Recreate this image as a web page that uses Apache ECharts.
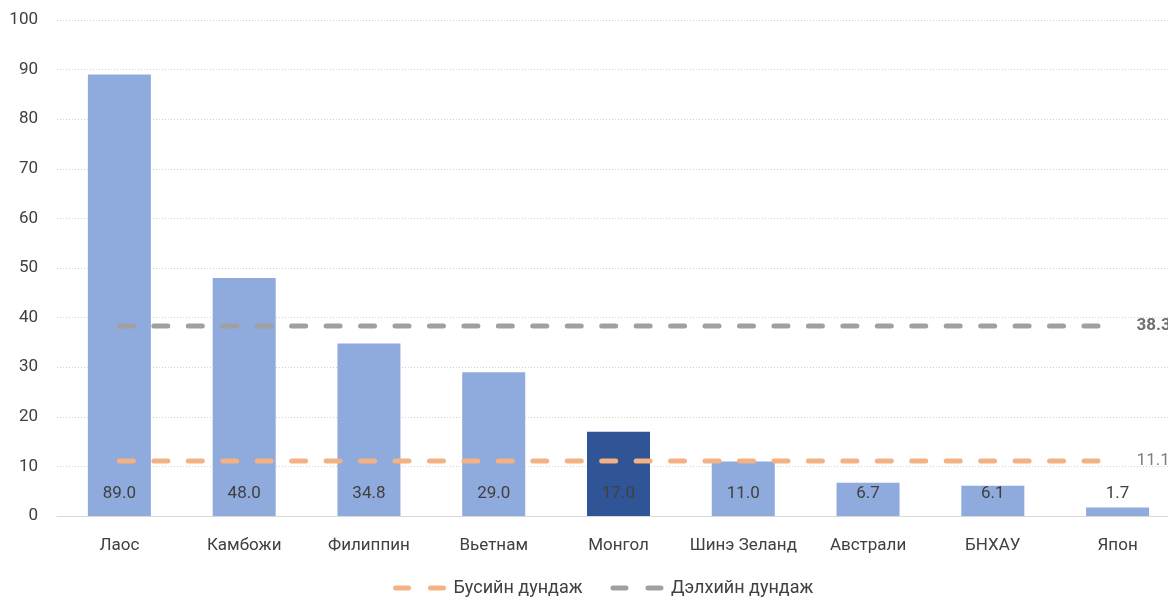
<!DOCTYPE html>
<html><head><meta charset="utf-8">
<script src="https://cdn.jsdelivr.net/npm/echarts@6/dist/echarts.min.js"></script>
<style>html,body{margin:0;padding:0;background:#fff;overflow:hidden;width:1168px;height:597px}#c{width:1180px;height:597px}</style>
</head><body><div id="c"></div>
<script>
var categories = ['Лаос','Камбожи','Филиппин','Вьетнам','Монгол','Шинэ Зеланд','Австрали','БНХАУ','Япон'];
var values = [89.0, 48.0, 34.8, 29.0, 17.0, 11.0, 6.7, 6.1, 1.7];
var highlight = 'Монгол';
var regionAvgName = 'Бусийн дундаж';
var regionAvg = 11.1;
var worldAvgName = 'Дэлхийн дундаж';
var worldAvg = 38.3;
var yTicks = [0,10,20,30,40,50,60,70,80,90,100];

var FONT = 'Roboto, "Noto Sans", sans-serif';
var chart = echarts.init(document.getElementById('c'), null, {renderer:'canvas'});
var barData = values.map(function(v,i){
  return {value:v, itemStyle:{color: categories[i]===highlight ? '#2F5597' : '#8FAADC'}};
});
function flat(v){ return categories.map(function(){return v;}); }
chart.setOption({
  animation:false,
  textStyle:{fontFamily:FONT},
  grid:{left:57, right:0, top:20, bottom:81, containLabel:false},
  legend:{
    top:574, left:388, itemWidth:48, itemHeight:10, itemGap:28,
    itemStyle:{color:'rgba(0,0,0,0)', borderWidth:0},
    lineStyle:{width:5, type:[13,22], cap:'round'},
    textStyle:{fontSize:18, color:'#404040', fontFamily:FONT, padding:[0,0,0,5]},
    data:[regionAvgName, worldAvgName]
  },
  xAxis:{
    type:'category', data:categories,
    axisLine:{lineStyle:{color:'#D9D9D9', width:1}},
    axisTick:{show:false},
    axisLabel:{fontSize:17, color:'#404040', margin:21, interval:0, fontFamily:FONT}
  },
  yAxis:{
    type:'value', min:yTicks[0], max:yTicks[yTicks.length-1], interval:10,
    axisLine:{show:false}, axisTick:{show:false},
    axisLabel:{fontSize:17, color:'#404040', margin:19, fontFamily:FONT},
    splitLine:{lineStyle:{color:'#D0D0D0', type:[1,2], width:1}}
  },
  series:[
    {type:'bar', data:barData, barWidth:63, z:1,
     label:{show:true, position:'insideBottom', distance:14, fontSize:17, color:'#404040',
            fontFamily:FONT, formatter:function(p){return p.value.toFixed(1);}}},
    {type:'line', name:regionAvgName, data:flat(regionAvg), symbol:'none', z:3,
     lineStyle:{color:'#F4B183', width:5, type:[14,20.45], cap:'round'},
     itemStyle:{color:'#F4B183'},
     endLabel:{show:true, distance:19, fontSize:17, color:'#7F7F7F', fontFamily:FONT,
               formatter:function(p){return p.value.toFixed(1);}}},
    {type:'line', name:worldAvgName, data:flat(worldAvg), symbol:'none', z:3,
     lineStyle:{color:'#A0A0A0', width:5, type:[14,20.45], cap:'round'},
     itemStyle:{color:'#A0A0A0'},
     endLabel:{show:true, distance:19, fontSize:17, fontWeight:'bold', color:'#6F6F6F', fontFamily:FONT,
               formatter:function(p){return p.value.toFixed(1);}}}
  ]
});
</script></body></html>
